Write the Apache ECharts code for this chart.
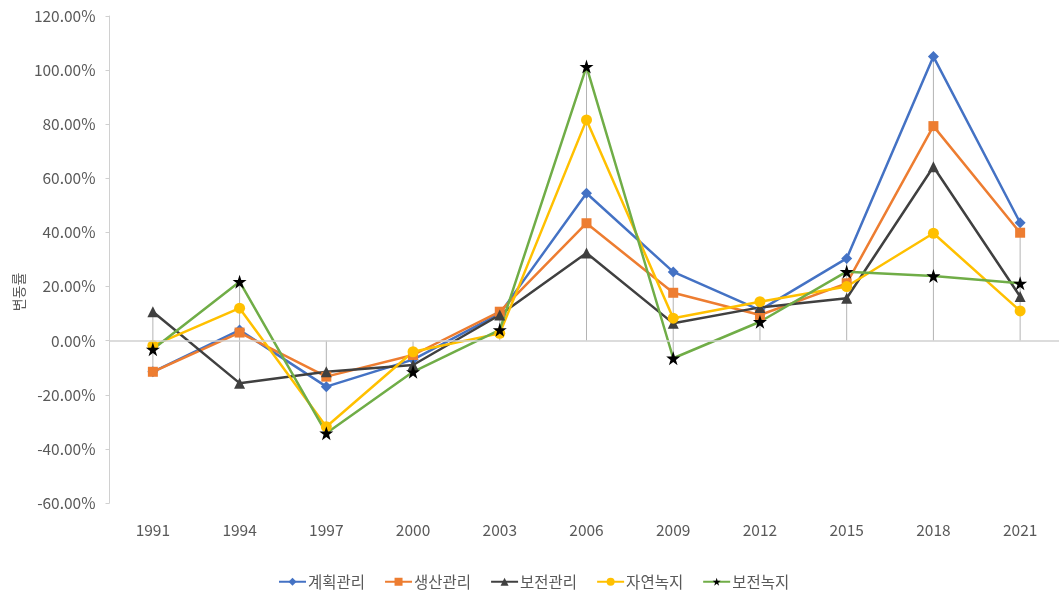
<!DOCTYPE html>
<html>
<head>
<meta charset="utf-8">
<script src="https://cdn.jsdelivr.net/npm/echarts@6/dist/echarts.min.js"></script>
<style>
  html, body { margin: 0; padding: 0; background: #fff; overflow: hidden; }
  #chart { width: 1064px; height: 596px; }
</style>
</head>
<body>
<div id="chart"></div>
<script>
// Categories (survey years)
const years = ['1991', '1994', '1997', '2000', '2003', '2006', '2009', '2012', '2015', '2018', '2021'];

// Rate of change per zoning type (%)
const planMgmt   = [-11.5, 3.9, -17.0, -7.0, 10.0, 54.5, 25.4, 11.3, 30.4, 105.0, 43.6]; // 계획관리
const prodMgmt   = [-11.5, 3.0, -13.3, -5.3, 10.7, 43.4, 17.7, 9.5, 21.2, 79.3, 39.9];  // 생산관리
const consMgmt   = [10.7, -15.7, -11.5, -9.0, 9.5, 32.4, 6.4, 12.3, 15.7, 64.3, 16.3];  // 보전관리
const natGreen   = [-1.8, 12.0, -31.8, -4.1, 2.7, 81.6, 8.3, 14.4, 20.0, 39.7, 11.0];   // 자연녹지
const consGreen  = [-3.2, 21.8, -34.2, -11.5, 4.0, 101.3, -6.5, 7.0, 25.5, 23.9, 21.2]; // 보전녹지

const yTicksMin = -60, yTicksMax = 120, yTickStep = 20;

const FONT = "'Noto Sans CJK KR', 'Noto Sans', sans-serif";
const TEXT = '#595959';
const FS = 15.5;

// Drop lines: from the farthest point on each side to the zero line
const allSeries = [planMgmt, prodMgmt, consMgmt, natGreen, consGreen];
const dropData = years.map((_, i) => {
  const vals = allSeries.map(s => s[i]);
  return [i, Math.max(0, ...vals), Math.min(0, ...vals)];
});

function lineSeries(name, data, color, symbol, size, symbolColor) {
  return {
    name, type: 'line', data,
    symbol, symbolSize: size,
    lineStyle: { color, width: 2.5 },
    itemStyle: { color: symbolColor || color },
    z: 3
  };
}

const chart = echarts.init(document.getElementById('chart'));
chart.setOption({
  animation: false,
  backgroundColor: '#ffffff',
  textStyle: { fontFamily: FONT },
  grid: { left: 109.5, top: 16, width: 954, height: 487, containLabel: false },
  xAxis: {
    type: 'category',
    data: years,
    axisLine: { show: false },
    axisTick: { show: false },
    axisLabel: { color: TEXT, fontSize: FS, margin: 19, fontFamily: FONT },
    splitLine: { show: false }
  },
  yAxis: {
    type: 'value',
    min: yTicksMin, max: yTicksMax, interval: yTickStep,
    axisLine: { show: true, lineStyle: { color: '#d0d0d0', width: 1 } },
    axisTick: { show: true, inside: false, length: 4, lineStyle: { color: '#d0d0d0' } },
    axisLabel: {
      color: TEXT, fontSize: FS, margin: 14, fontFamily: FONT,
      formatter: v => v.toFixed(2) + '%'
    },
    splitLine: { show: false }
  },
  legend: {
    top: 569,
    left: 273,
    itemWidth: 27,
    itemHeight: 10,
    itemGap: 19,
    textStyle: { color: TEXT, fontSize: FS, fontFamily: FONT, padding: [0, 0, 0, -3] },
    data: ['계획관리', '생산관리', '보전관리', '자연녹지', '보전녹지']
  },
  graphic: [{
    type: 'text',
    x: 19, y: 292,
    rotation: Math.PI / 2,
    style: {
      text: '변동률', fill: TEXT, font: '14px ' + FONT,
      textAlign: 'center', textVerticalAlign: 'middle'
    }
  }],
  series: [
    {
      type: 'custom',
      name: 'drop',
      data: dropData,
      encode: { x: 0, y: [1, 2] },
      silent: true,
      z: 1,
      renderItem: (params, api) => {
        const p1 = api.coord([api.value(0), api.value(1)]);
        const p2 = api.coord([api.value(0), api.value(2)]);
        return {
          type: 'line',
          shape: { x1: p1[0], y1: p1[1], x2: p2[0], y2: p2[1] },
          style: { stroke: '#b4b4b4', lineWidth: 1 }
        };
      },
      markLine: {
        silent: true,
        symbol: 'none',
        label: { show: false },
        lineStyle: { color: '#d0d0d0', width: 1.5, type: 'solid' },
        data: [{ yAxis: 0 }]
      }
    },
    lineSeries('계획관리', planMgmt, '#4472C4', 'diamond', 11),
    lineSeries('생산관리', prodMgmt, '#ED7D31', 'rect', 10),
    lineSeries('보전관리', consMgmt, '#404040', 'triangle', 11),
    lineSeries('자연녹지', natGreen, '#FFC000', 'circle', 11),
    lineSeries('보전녹지', consGreen, '#70AD47', 'path://M50,0 L61.8,35.1 L98.9,35.1 L68.9,56.8 L80.2,91.9 L50,70.2 L19.8,91.9 L31.1,56.8 L1.1,35.1 L38.2,35.1 Z', 14, '#000000')
  ]
});
</script>
</body>
</html>
